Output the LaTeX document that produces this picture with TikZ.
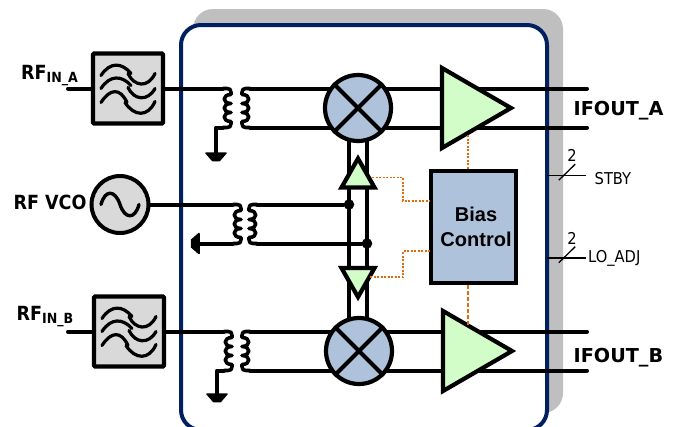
\documentclass[tikz,border=0pt]{standalone}
\usepackage{fontspec}
\usepackage{tikz}
\usetikzlibrary{shapes.geometric}
\newfontfamily\condfont{DejaVu Sans Condensed}
\newfontfamily\widefont{DejaVu Sans}
\setmainfont{Liberation Sans}
\definecolor{chipblue}{HTML}{002060}
\definecolor{shadowgray}{HTML}{BFBFBF}
\definecolor{boxgray}{HTML}{D9D9D9}
\definecolor{steelfill}{HTML}{AFC2DB}
\definecolor{ampgreen}{HTML}{D2FDC8}
\definecolor{ctrlorange}{HTML}{E36C0A}
\tikzset{
  wire/.style={draw=black,line width=4pt,line cap=round,line join=round},
  bus/.style={draw=black,line width=1.6pt},
  ctrl/.style={draw=ctrlorange,line width=1.3pt,dash pattern=on 2pt off 1.5pt},
  ctrlthick/.style={draw=ctrlorange,line width=2.4pt,dash pattern=on 3.5pt off 2.5pt},
  chipbox/.style={rectangle,rounded corners=20pt,draw=chipblue,fill=white,line width=4pt,outer sep=0pt,anchor=north west,minimum width=366pt,minimum height=405pt},
  filterbox/.style={rectangle,draw=black,fill=boxgray,line width=4.2pt,minimum size=70pt,rounded corners=1pt},
  vcobox/.style={circle,draw=black,fill=boxgray,line width=4pt,minimum size=57pt,inner sep=0pt},
  mixerbox/.style={circle,draw=black,fill=steelfill,line width=4.2pt,minimum size=66pt,inner sep=0pt},
  biasbox/.style={rectangle,draw=black,fill=steelfill,line width=4.2pt,minimum width=85pt,minimum height=112pt,align=center,inner sep=0pt,font=\fontsize{20}{24.5}\selectfont\bfseries},
  ampbox/.style={isosceles triangle,isosceles triangle stretches,draw=black,fill=ampgreen,line width=4.2pt,inner sep=0pt,outer sep=0pt,anchor=lower side,minimum width=80pt,minimum height=69pt},
  ctlbox/.style={ampbox,minimum width=33pt,minimum height=29pt},
  dotnode/.style={circle,fill=black,inner sep=0pt,minimum size=10.5pt},
  boldlabel/.style={inner sep=0pt,anchor=base west,font=\fontsize{19.5}{22}\selectfont\condfont\bfseries},
  outlabel/.style={inner sep=0pt,anchor=base west,font=\fontsize{19.2}{22}\selectfont\widefont\bfseries},
  buslabel/.style={inner sep=0pt,anchor=base west,font=\fontsize{16.3}{18}\selectfont\condfont},
  coil/.pic={
    \coordinate (-top) at (-8,0);
    \coordinate (-bot) at (-8,39);
    \draw[wire,line width=3.6pt] (-8,0) -- (-4,0) .. controls (-1,0) and (0,1) .. (0,4) -- (0,6)
      .. controls (-9,6) and (-9,15) .. (0,15) .. controls (-9,15) and (-9,24) .. (0,24) .. controls (-9,24) and (-9,33) .. (0,33)
      -- (0,35) .. controls (0,38) and (-1,39) .. (-4,39) -- (-8,39);
  },
  gnd/.pic={
    \fill[black,draw=black,line width=1.5pt,line join=round] (-10,0) -- (10,0) -- (3.5,7.5) -- (-3.5,7.5) -- cycle;
  },
  waves/.pic={
    \draw[wire,line width=3.2pt]
      (-27,-13) .. controls (-18,-27) and (-6,-26) .. (3,-15)
      (-27,0) .. controls (-18,-14) and (-6,-13) .. (3,-3)
      (-27,14) .. controls (-18,0) and (-8,-1) .. (-1,14)
      (0,-15) .. controls (6,-2) and (20,0) .. (27,-15)
      (0,-1) .. controls (6,12) and (20,13) .. (27,0)
      (-3,14) .. controls (6,28) and (20,29) .. (27,13);
  },
  sinewave/.pic={
    \draw[wire,line width=3.4pt] (-19,0) .. controls (-15,-15) and (-5,-15) .. (0,0) .. controls (5,15) and (15,15) .. (19,0);
  },
  busmark/.pic={
    \draw[bus,line width=1.3pt] (-8.2,8) -- (8.2,-8);
    \node[buslabel,anchor=base] (-num) at (5,-10.5) {2};
  },
}
\begin{document}
\begin{tikzpicture}[x=1pt,y=-1pt]
\useasboundingbox (0,0) rectangle (676,426);
\clip (0,0) rectangle (676,426);
\fill[shadowgray,rounded corners=20pt] (193,9) rectangle (563,413);
\node[chipbox] (chip) at (181,25) {};
\coordinate (inA) at (68,88.5);
\coordinate (inB) at (68,331.5);
\coordinate (outAt) at (587,88.5);
\coordinate (outAb) at (587,127.5);
\coordinate (outBt) at (587,331.5);
\coordinate (outBb) at (587,370.5);
\coordinate (gndA) at (216,153);
\coordinate (gndB) at (217,394);
\coordinate (gndV) at (199,243.5);
\coordinate (stby) at (586,175.5);
\coordinate (loadj) at (586,257.7);
\coordinate (tapA) at (468,135);
\coordinate (tapB) at (468,325);
\coordinate (tapC) at (372,177.5);
\coordinate (tapD) at (370,277);
\coordinate (biasC) at (430,201);
\coordinate (biasD) at (430,251);
\node[filterbox] (filtA) at (128,88.5) {};
\node[filterbox] (filtB) at (129,331.5) {};
\node[vcobox] (vco) at (120,204.5) {};
\node[dotnode] (dotT) at (349,204.5) {};
\node[dotnode] (dotB) at (367,243.5) {};
\pic (priA) at (231,88.5) {coil};
\pic[xscale=-1] (secA) at (242,88.5) {coil};
\pic (priV) at (241,204.5) {coil};
\pic[xscale=-1] (secV) at (249,204.5) {coil};
\pic (priB) at (232,331.5) {coil};
\pic[xscale=-1] (secB) at (242,331.5) {coil};
\draw[bus] (chip.east |- stby) -- (stby);
\draw[bus] (chip.east |- loadj) -- (loadj);
\pic at (567,172.2) {busmark};
\pic at (567,254.7) {busmark};
\draw[wire] (inA) -- (filtA);
\draw[wire] (inB) -- (filtB);
\draw[wire] (filtA) -- (priA-top);
\draw[wire] (filtB) -- (priB-top);
\draw[wire] (vco) -- (priV-top);
\draw[wire] (priA-bot) -| (gndA);
\draw[wire] (priB-bot) -| (gndB);
\draw[wire] (priV-bot) -- (gndV);
\draw[wire] (secA-top) -- (outAt);
\draw[wire] (secA-bot) -- (outAb);
\draw[wire] (secB-top) -- (outBt);
\draw[wire] (secB-bot) -- (outBb);
\draw[wire] (secV-top) -- (dotT);
\draw[wire] (secV-bot) -- (dotB);
\draw[wire] (dotT |- 0,140) -- (dotT |- 0,320);
\draw[wire] (dotB |- 0,140) -- (dotB |- 0,320);
\pic at (gndA) {gnd};
\pic at (gndB) {gnd};
\pic[rotate=-90] at (gndV) {gnd};
\pic at (filtA) {waves};
\pic at (filtB) {waves};
\pic at (vco) {sinewave};
\node[mixerbox] (mixA) at (358,108) {};
\node[mixerbox] (mixB) at (359,351) {};
\draw[wire,line cap=butt] (mixA.north west) -- (mixA.south east);
\draw[wire,line cap=butt] (mixA.north east) -- (mixA.south west);
\draw[wire,line cap=butt] (mixB.north west) -- (mixB.south east);
\draw[wire,line cap=butt] (mixB.north east) -- (mixB.south west);
\node[ampbox] (ampA) at (442,108) {};
\node[ampbox] (ampB) at (443,351) {};
\node[ctlbox,shape border rotate=90] (ctlA) at (358,187.5) {};
\node[ctlbox,shape border rotate=270] (ctlB) at (358,268) {};
\node[biasbox] (bias) at (473.5,227) {\hspace*{5pt}Bias\\\hspace*{5pt}Control};
\draw[ctrl] (tapA) -- (bias.north -| tapA);
\draw[ctrlthick] (bias.south -| tapB) -- (tapB);
\draw[ctrl] (tapC) -- ++(31,0) |- (biasC);
\draw[ctrl] (tapD) -- ++(33,0) |- (biasD);
\node[boldlabel] (lblA) at (21,79) {RF{\fontsize{14}{14}\selectfont\raisebox{-3pt}{IN\_A}}};
\node[boldlabel] (lblB) at (16.5,320.7) {RF{\fontsize{14}{14}\selectfont\raisebox{-3pt}{IN\_B}}};
\node[boldlabel] (lblV) at (13.3,209.5) {RF VCO};
\node[outlabel] (lblOutA) at (573.5,115) {IFOUT\_A};
\node[outlabel] (lblOutB) at (573.5,362) {IFOUT\_B};
\node[buslabel] (lblStby) at (594.5,184) {STBY};
\node[buslabel] (lblLo) at (588,262) {LO\_ADJ};
\end{tikzpicture}
\end{document}
